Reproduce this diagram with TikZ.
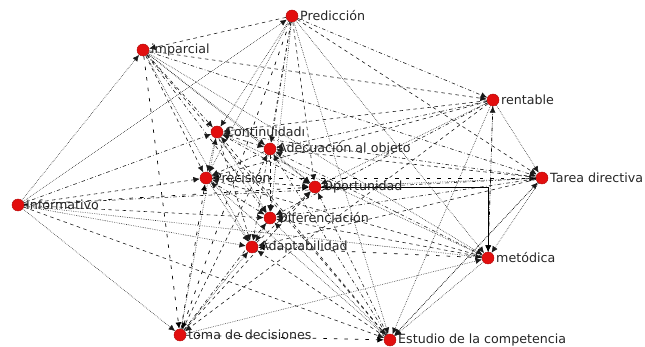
\documentclass[tikz,border=0pt]{standalone}
\usepackage{fontspec}
\newfontfamily\lblfont{DejaVu Sans}
\usetikzlibrary{arrows.meta, backgrounds}
\definecolor{dotred}{RGB}{226,14,14}

\begin{document}
\begin{tikzpicture}[x=0.03cm, y=-0.03cm, >={Latex[length=5.5pt,width=5pt]},
    every node/.style={font=\lblfont\fontsize{10.8}{12}\selectfont}]
    \tikzstyle{actor}=[circle, fill=dotred, draw=dotred!80!black, inner sep=0pt, minimum size=0.36cm]
    \tikzstyle{lbl}=[inner sep=1.5pt, text=black!85]
    \tikzstyle{linka}=[->, black!90, line width=0.5pt, dashed]
    \tikzstyle{linkb}=[->, black!90, line width=0.5pt, dash dot]
    \tikzstyle{linkc}=[->, black!90, line width=0.5pt, densely dotted]
    \tikzstyle{linkd}=[->, black, line width=0.6pt, loosely dashed]
    \tikzstyle{flat}=[->, black, line width=0.7pt]

    \useasboundingbox (0,0) rectangle (645,347);

    % actors
    \node[actor, label={[lbl]right:Predicción}] (pred) at (292,16) {};
    \node[actor, label={[lbl]right:imparcial}] (imp) at (143,50) {};
    \node[actor, label={[lbl]right:rentable}] (rent) at (493,100) {};
    \node[actor, label={[lbl]right:Continuidadı}] (cont) at (217,132) {};
    \node[actor, label={[lbl]right:Adecuación al objeto}] (adec) at (270,149) {};
    \node[actor, label={[lbl]right:Precisión}] (prec) at (206,178) {};
    \node[actor, label={[lbl]right:Oportunidad}] (opor) at (315,187) {};
    \node[actor, label={[lbl]right:Tarea directiva}] (tarea) at (542,178) {};
    \node[actor, label={[lbl]right:Informativo}] (inf) at (18,205) {};
    \node[actor, label={[lbl]right:Diferenciación}] (dif) at (270,218) {};
    \node[actor, label={[lbl]right:Adaptabilidad}] (adap) at (252,247) {};
    \node[actor, label={[lbl]right:metódica}] (met) at (488,258) {};
    \node[actor, label={[lbl]right:toma de decisiones}] (toma) at (180,335) {};
    \node[actor, label={[lbl]right:Estudio de la competencia}] (est) at (390,340) {};

    % ties
    \begin{scope}[on background layer]
    \foreach \t/\s in {imp/linka, cont/linkc, adec/linkb, prec/linkc, opor/linka, dif/linkc, adap/linkb, toma/linkd, est/linkc, rent/linkb, tarea/linka, met/linkc}
        \draw[\s] (pred) -- (\t);
    \foreach \t/\s in {cont/linkb, adec/linkc, prec/linka, opor/linkc, dif/linkb, adap/linkc, toma/linkd, rent/linka, tarea/linkb, met/linkc, est/linka}
        \draw[\s] (imp) -- (\t);
    \foreach \t/\s in {imp/linkc, pred/linkc, prec/linka, cont/linkb, opor/linkd, adap/linkc, dif/linka, tarea/linkb, toma/linkc, est/linka, met/linkc}
        \draw[\s] (inf) -- (\t);
    \foreach \t/\s in {cont/linka, adec/linkb, prec/linka, opor/linkc, dif/linkb, tarea/linkc, met/linkd, est/linkc, toma/linka}
        \draw[\s] (rent) -- (\t);
    \foreach \t/\s in {cont/linkb, adec/linka, prec/linkd, opor/linkc, adap/linka, dif/linkb, met/linkc, est/linkc}
        \draw[\s] (tarea) -- (\t);
    \foreach \t/\s in {prec/linka, cont/linkc, adec/linkb, dif/linka, adap/linkd, est/linkc, rent/linkc}
        \draw[\s] (met) -- (\t);
    \foreach \t/\s in {prec/linkc, cont/linka, adec/linkb, dif/linkc, adap/linka, opor/linkb, tarea/linkc}
        \draw[\s] (est) -- (\t);
    \foreach \t/\s in {prec/linkd, cont/linkc, adec/linka, dif/linkb, adap/linkc, opor/linka, met/linkc, est/linkd}
        \draw[\s] (toma) -- (\t);
    \foreach \t/\s in {prec/linkc, adec/linka, opor/linkb, dif/linkc, adap/linka}
        \draw[\s] (cont) -- (\t);
    \foreach \t/\s in {opor/linkc, dif/linka, prec/linkb}
        \draw[\s] (adec) -- (\t);
    \foreach \t/\s in {dif/linkb, adap/linkc, opor/linka}
        \draw[\s] (prec) -- (\t);
    \draw[linkc] (dif) -- (adap);
    \draw[linka] (adap) -- (opor);
    \draw[flat] (opor) -| (met);
    \end{scope}
\end{tikzpicture}
\end{document}
